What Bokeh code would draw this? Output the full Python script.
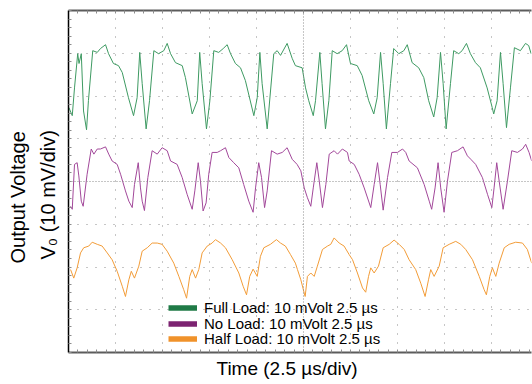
from bokeh.embed import file_html
from bokeh.models import (FixedTicker, Legend, LegendItem, LinearAxis,
                          Range1d, Span, Title)
from bokeh.plotting import figure
from bokeh.resources import INLINE

# Oscilloscope capture: time in microseconds, output ripple in mV (screen offsets per channel)
full_t = [0.02, 0.20, 0.32, 0.49, 0.56, 0.68, 0.80, 0.96, 1.06, 1.29,
          1.53, 1.70, 1.97, 2.13, 2.39, 2.66, 2.86, 3.19, 3.46, 3.65,
          3.79, 3.92, 4.13, 4.31, 4.54, 4.79, 5.07, 5.25, 5.43, 5.69,
          6.05, 6.22, 6.58, 6.85, 6.98, 7.11, 7.34, 7.52, 7.73, 7.99,
          8.23, 8.44, 8.62, 8.88, 9.15, 9.41, 9.86, 10.04, 10.18, 10.30,
          10.57, 10.92, 11.10, 11.28, 11.63, 11.90, 12.07, 12.43, 12.61, 12.78,
          13.02, 13.14, 13.37, 13.49, 13.67, 13.85, 14.03, 14.29, 14.56, 14.79,
          15.00, 15.36, 15.62, 15.97, 16.24, 16.42, 16.60, 16.74, 16.91, 17.13,
          17.30, 17.57, 17.84, 18.02, 18.28, 18.63, 18.90, 19.16, 19.43, 19.61,
          19.79, 19.93, 20.09, 20.32, 20.49, 20.76, 20.94, 21.17, 21.38, 21.65,
          21.91, 22.27, 22.54, 22.62, 22.80, 22.98, 23.12, 23.30, 23.51, 23.72,
          24.04, 24.31, 24.48, 24.61]
full_mv = [17.3, 15.4, 21.9, 29.9, 27.6, 29.9, 16.5, 12.1, 18.9, 30.6,
           30.2, 31.1, 32.0, 29.9, 27.6, 27.1, 25.5, 19.6, 15.4, 19.6,
           30.2, 22.9, 12.3, 18.9, 30.6, 29.9, 30.6, 32.3, 29.9, 27.8,
           27.1, 24.3, 15.8, 18.9, 30.2, 22.9, 12.3, 18.9, 30.6, 30.2,
           31.1, 32.0, 29.9, 27.6, 26.6, 23.6, 15.4, 19.6, 30.2, 22.9,
           12.3, 29.9, 30.6, 29.5, 32.3, 28.8, 27.1, 26.6, 21.9, 18.9,
           15.4, 18.9, 30.2, 22.9, 12.3, 18.9, 30.6, 29.9, 30.6, 32.0,
           27.6, 27.1, 24.8, 18.9, 15.8, 19.6, 30.2, 22.9, 12.3, 22.9,
           31.1, 29.9, 30.6, 32.0, 27.8, 26.6, 24.3, 18.9, 15.1, 19.6,
           30.2, 22.9, 12.3, 22.9, 30.6, 29.9, 30.6, 32.3, 29.9, 27.8,
           26.6, 21.9, 17.3, 15.8, 18.9, 30.2, 22.9, 12.6, 21.9, 31.3,
           30.6, 32.3, 31.8, 29.9]

no_t = [0.11, 0.20, 0.32, 0.46, 0.55, 0.68, 0.78, 0.99, 1.21, 1.35,
        1.53, 1.70, 1.97, 2.14, 2.32, 2.59, 2.77, 3.03, 3.21, 3.39,
        3.51, 3.71, 3.83, 3.92, 4.04, 4.22, 4.45, 4.72, 4.98, 5.25,
        5.43, 5.78, 6.05, 6.31, 6.58, 6.72, 6.90, 7.02, 7.16, 7.32,
        7.46, 7.64, 7.91, 8.09, 8.35, 8.53, 8.79, 9.06, 9.32, 9.59,
        9.82, 9.95, 10.12, 10.27, 10.43, 10.57, 10.80, 11.10, 11.37, 11.63,
        11.90, 12.16, 12.36, 12.54, 12.71, 12.89, 13.02, 13.21, 13.34, 13.51,
        13.69, 13.87, 14.13, 14.31, 14.57, 14.84, 14.93, 15.20, 15.46, 15.73,
        16.08, 16.26, 16.44, 16.58, 16.74, 16.97, 17.20, 17.50, 17.77, 17.94,
        18.12, 18.56, 18.92, 19.19, 19.32, 19.50, 19.66, 19.80, 19.98, 20.16,
        20.39, 20.69, 20.99, 21.22, 21.40, 21.66, 22.02, 22.29, 22.52, 22.64,
        22.78, 22.91, 23.12, 23.35, 23.58, 23.88, 24.15, 24.32, 24.50, 24.64]
no_mv = [-5.8, -6.5, 4.0, 4.4, 1.3, -4.6, -5.8, 1.7, 7.6, 6.4,
         7.6, 7.6, 8.1, 6.4, 4.8, 4.0, 1.7, -2.2, -4.6, -6.1,
         -0.7, 4.4, -1.5, -4.6, -6.8, 0.9, 7.2, 6.4, 7.9, 7.2,
         4.8, 4.0, 0.9, -3.0, -6.5, -2.2, 4.4, 0.1, -6.9, -5.0,
         1.7, 6.8, 6.8, 7.2, 7.9, 5.6, 4.4, 3.2, -0.7, -4.6,
         -7.2, -1.5, 4.4, 0.9, -6.1, -2.2, 7.2, 6.4, 6.8, 7.9,
         5.2, 4.0, 2.5, -1.5, -3.8, -5.8, -1.5, 4.4, 0.1, -6.1,
         -0.7, 6.4, 7.2, 6.4, 7.6, 6.8, 4.8, 4.0, 1.7, -1.5,
         -6.1, -0.7, 4.4, -0.7, -6.7, 0.9, 6.8, 6.8, 7.6, 6.8,
         4.8, 3.2, -0.7, -4.6, -6.5, -1.5, 4.4, -1.5, -7.2, 0.1,
         6.8, 7.2, 8.1, 6.0, 5.2, 4.0, 0.9, -3.0, -6.1, -1.5,
         4.4, 0.1, -6.5, 0.1, 7.2, 6.8, 7.6, 8.7, 6.8, 4.8]

half_t = [0.11, 0.28, 0.46, 0.64, 0.81, 1.08, 1.26, 1.53, 1.79, 2.06,
          2.32, 2.59, 2.86, 3.03, 3.21, 3.34, 3.51, 3.74, 3.92, 4.19,
          4.45, 4.72, 4.98, 5.25, 5.60, 5.87, 6.13, 6.28, 6.45, 6.58,
          6.76, 6.93, 7.11, 7.38, 7.64, 7.82, 8.09, 8.35, 8.71, 9.06,
          9.29, 9.47, 9.64, 9.82, 10.04, 10.21, 10.39, 10.74, 11.06, 11.28,
          11.54, 11.81, 12.07, 12.18, 12.36, 12.54, 12.59, 12.71, 12.89, 13.07,
          13.24, 13.51, 13.78, 13.95, 14.13, 14.40, 14.66, 14.93, 15.11, 15.37,
          15.64, 15.81, 15.96, 16.08, 16.26, 16.49, 16.74, 17.06, 17.32, 17.59,
          17.86, 18.12, 18.47, 18.74, 18.97, 19.15, 19.27, 19.45, 19.72, 19.93,
          20.25, 20.60, 20.87, 21.13, 21.49, 21.85, 22.11, 22.23, 22.41, 22.55,
          22.73, 22.91, 23.18, 23.44, 23.79, 24.15, 24.41, 24.64]
half_mv = [-20.6, -22.6, -20.2, -16.7, -15.5, -15.1, -14.2, -14.7, -15.1, -16.7,
           -18.3, -21.0, -24.5, -26.9, -23.0, -21.0, -22.6, -19.8, -16.3, -15.5,
           -14.4, -14.4, -14.7, -16.3, -19.1, -22.2, -25.3, -27.3, -22.2, -20.6,
           -22.6, -20.6, -16.7, -15.1, -14.4, -13.6, -14.4, -15.5, -18.3, -21.4,
           -24.5, -26.5, -22.2, -20.5, -22.2, -17.5, -15.5, -14.7, -13.6, -14.4,
           -15.1, -17.1, -19.1, -20.6, -23.0, -26.1, -26.9, -22.2, -21.4, -22.2,
           -19.8, -15.9, -15.1, -14.7, -13.2, -14.4, -15.1, -17.1, -18.3, -21.4,
           -24.9, -25.9, -22.2, -20.2, -21.4, -19.8, -15.5, -14.7, -13.7, -14.7,
           -15.9, -18.3, -20.6, -23.8, -26.9, -23.0, -20.6, -22.2, -19.8, -15.5,
           -14.7, -14.0, -14.7, -15.9, -18.3, -22.2, -25.3, -26.5, -22.2, -20.2,
           -22.2, -19.1, -15.5, -14.7, -14.2, -14.4, -15.9, -19.1]

legend_labels = ["Full Load: 10 mVolt 2.5 \u00b5s",
                 "No Load: 10 mVolt 2.5 \u00b5s",
                 "Half Load: 10 mVolt 2.5 \u00b5s"]

# scope graticule: 2.5 us/div horizontally, 10 mV/div vertically
T_DIV, V_DIV = 2.5, 10.0
t_major = [T_DIV * k for k in range(10)]
t_minor = [T_DIV / 5 * k for k in range(50)]
v_major = [V_DIV * k for k in range(-4, 5)]
v_minor = [V_DIV / 5 * k for k in range(-20, 21)]

FONT = "Liberation Sans"
GRID = "#8c8c8c"
trace_colors = ["#3e9a62", "#a2489a", "#f29c38"]
key_colors = ["#1f7a46", "#7c2371", "#f0922a"]

p = figure(width=532, height=384, x_range=Range1d(0, 24.63), y_range=Range1d(-40, 40),
           output_backend="svg", toolbar_location=None,
           min_border_left=68, min_border_right=1, min_border_top=10, min_border_bottom=32)
p.outline_line_color = None
p.background_fill_color = "white"
p.border_fill_color = "white"

top_axis = LinearAxis()
p.add_layout(top_axis, "above")

# the edges only carry the small 1/5-division marks, no numbers
for ax in p.xaxis:
    ax.ticker = FixedTicker(ticks=[], minor_ticks=t_minor)
for ax in p.yaxis:
    ax.ticker = FixedTicker(ticks=[], minor_ticks=v_minor)
for ax in list(p.xaxis) + list(p.yaxis):
    ax.major_label_standoff = 0
    ax.major_tick_in = 0
    ax.major_tick_out = 0
    ax.minor_tick_in = 3
    ax.minor_tick_out = 0
    ax.minor_tick_line_color = GRID
    ax.axis_line_color = "#5c5c5c"
    ax.axis_line_width = 2
for ax in p.yaxis:
    ax.axis_line_color = "black"
    ax.axis_line_width = 1.5

p.xgrid.ticker = FixedTicker(ticks=[t for t in t_major if t not in (0.0, 12.5)])
p.ygrid.ticker = FixedTicker(ticks=[v for v in v_major if v not in (-40.0, 0.0, 40.0)])
p.xgrid.grid_line_color = GRID
p.xgrid.grid_line_dash = "1 8"
p.ygrid.grid_line_color = GRID
p.ygrid.grid_line_dash = "1 8"

# centre cross of the graticule
p.add_layout(Span(location=12.5, dimension="height", line_color=GRID, line_dash="1 2"))
p.add_layout(Span(location=0, dimension="width", line_color=GRID, line_dash="1 2"))

for t, v, c in [(full_t, full_mv, trace_colors[0]),
                (no_t, no_mv, trace_colors[1]),
                (half_t, half_mv, trace_colors[2])]:
    p.line(t, v, line_color=c, line_width=1)

# thick swatches for the key (a single undefined point, so nothing shows in the frame),
# one key row per channel so the rows can sit tightly stacked
nan = float("nan")
row_bottoms = [36, 20.5, 5]
for label, color, y0 in zip(legend_labels, key_colors, row_bottoms):
    r = p.line(x=[nan], y=[nan], line_color=color, line_width=5.5)
    p.add_layout(Legend(items=[LegendItem(label=label, renderers=[r])],
                        location=(100, y0), padding=0, margin=0, spacing=0,
                        glyph_width=29, glyph_height=15, label_height=15, label_standoff=7,
                        label_text_font=FONT, label_text_font_size="15px",
                        label_text_color="black",
                        background_fill_alpha=0, border_line_color=None))

title_style = dict(text_font=FONT, text_font_style="normal", text_color="black", align="left")
p.add_layout(Title(text="Time (2.5 \u00b5s/div)", offset=148, standoff=7,
                   text_font_size="19px", **title_style), "below")
p.add_layout(Title(text="V\u2080 (10 mV/div)", offset=93, standoff=16, vertical_align="top",
                   text_font_size="20px", **title_style), "left")
p.add_layout(Title(text="Output Voltage", offset=89, standoff=0,
                   text_font_size="20px", **title_style), "left")

open("out.html", "w").write(file_html(p, INLINE))
